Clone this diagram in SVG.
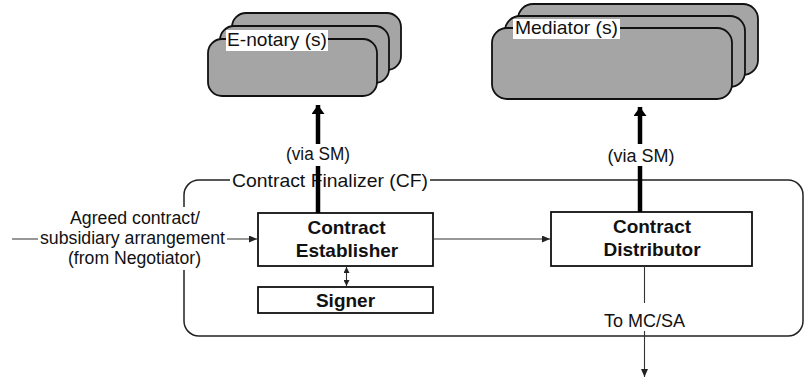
<svg xmlns="http://www.w3.org/2000/svg" width="805" height="382" viewBox="0 0 805 382">
<style>
.stk{fill:#a5a5a5;stroke:#111;stroke-width:1.8}
.box{fill:#fff;stroke:#111;stroke-width:1.8}
.t{font-family:"Liberation Sans",Arial,sans-serif;font-size:17.5px;fill:#111}
.tl{font-family:"Liberation Sans",Arial,sans-serif;font-size:19px;fill:#111}
.b{font-family:"Liberation Sans",Arial,sans-serif;font-size:19px;font-weight:bold;fill:#111;text-anchor:middle}
.m{text-anchor:middle}
.thin{stroke:#333;stroke-width:1.1;fill:none}
.thick{stroke:#000;stroke-width:4.5;fill:none}
.bg{fill:#fff}
</style>
<defs>
<marker id="ah" markerUnits="userSpaceOnUse" markerWidth="8" markerHeight="7" refX="8" refY="3.5" orient="auto-start-reverse"><path d="M0,0 L8,3.5 L0,7 z" fill="#222"/></marker>
<marker id="ahs" markerUnits="userSpaceOnUse" markerWidth="6" markerHeight="6" refX="6" refY="3" orient="auto-start-reverse"><path d="M0,0 L6,3 L0,6 z" fill="#222"/></marker>
<marker id="ahb" markerUnits="userSpaceOnUse" markerWidth="9" markerHeight="13" refX="9" refY="6.5" orient="auto"><path d="M0,0 L9,6.5 L0,13 z" fill="#000"/></marker>
</defs>

<!-- Contract Finalizer container -->
<g id="cf">
<rect x="184" y="180" width="619" height="156" rx="15" ry="15" fill="none" stroke="#222" stroke-width="1.5"/>
</g>

<!-- E-notary stack -->
<g id="enotary">
<rect class="stk" x="232" y="13" width="169" height="57" rx="14"/>
<rect class="stk" x="220" y="26" width="169" height="57" rx="14"/>
<rect class="stk" x="208" y="39" width="169" height="57" rx="14"/>
<rect class="bg" x="226" y="30" width="102" height="21"/>
<text class="tl" x="227" y="45.5" textLength="100" lengthAdjust="spacingAndGlyphs">E-notary (s)</text>
</g>

<!-- Mediator stack -->
<g id="mediator">
<rect class="stk" x="518" y="4" width="240" height="71" rx="15"/>
<rect class="stk" x="505" y="16" width="240" height="71" rx="15"/>
<rect class="stk" x="492" y="28" width="240" height="71" rx="15"/>
<rect class="bg" x="513" y="19" width="107" height="20"/>
<text class="tl" x="515" y="34" textLength="103" lengthAdjust="spacingAndGlyphs">Mediator (s)</text>
</g>

<!-- Contract Establisher -->
<g id="establisher">
<rect class="box" x="258" y="213" width="175" height="53"/>
<text class="b" x="346.5" y="234">Contract</text>
<text class="b" x="347" y="257">Establisher</text>
</g>

<!-- Signer -->
<g id="signer">
<rect class="box" x="258" y="287" width="175" height="26"/>
<text class="b" x="345.5" y="306.5">Signer</text>
</g>

<!-- Contract Distributor -->
<g id="distributor">
<rect class="box" x="551" y="212" width="201" height="54"/>
<text class="b" x="652" y="233">Contract</text>
<text class="b" x="652" y="256">Distributor</text>
</g>

<!-- Connectors -->
<g id="connectors">
<line class="thin" x1="12" y1="239" x2="257" y2="239" marker-end="url(#ah)"/>
<line class="thin" x1="433" y1="239" x2="550" y2="239" marker-end="url(#ah)"/>
<line class="thin" x1="346.5" y1="267" x2="346.5" y2="286" marker-start="url(#ahs)" marker-end="url(#ahs)"/>
<line class="thin" x1="644.5" y1="266" x2="644.5" y2="377" marker-end="url(#ah)"/>
</g>

<!-- Labels with white backgrounds -->
<g id="labels">
<rect class="bg" x="68" y="207" width="134" height="21"/>
<rect class="bg" x="38" y="228" width="189" height="20"/>
<rect class="bg" x="66" y="248" width="137" height="22"/>
<text class="t m" x="135" y="224" textLength="130" lengthAdjust="spacingAndGlyphs">Agreed contract/</text>
<text class="t m" x="132.5" y="243.5" textLength="185" lengthAdjust="spacingAndGlyphs">subsidiary arrangement</text>
<text class="t m" x="134.5" y="264" textLength="133" lengthAdjust="spacingAndGlyphs">(from Negotiator)</text>
<rect class="bg" x="230" y="171" width="200" height="20"/>
<text class="tl" x="232" y="187" textLength="196" lengthAdjust="spacingAndGlyphs">Contract Finalizer (CF)</text>
<rect class="bg" x="602" y="303" width="85" height="28"/>
<text class="t m" x="644.5" y="327" textLength="81" lengthAdjust="spacingAndGlyphs">To MC/SA</text>
</g>

<!-- Thick arrows via SM -->
<g id="via-sm">
<line class="thick" x1="318" y1="213" x2="318" y2="105" marker-end="url(#ahb)"/>
<line class="thick" x1="640" y1="212" x2="640" y2="107" marker-end="url(#ahb)"/>
<rect class="bg" x="284" y="144" width="68" height="22"/>
<text class="t m" x="318" y="160" textLength="64" lengthAdjust="spacingAndGlyphs">(via SM)</text>
<rect class="bg" x="606" y="144" width="71" height="22"/>
<text class="t m" x="641" y="161.5" textLength="67" lengthAdjust="spacingAndGlyphs">(via SM)</text>
</g>
</svg>
